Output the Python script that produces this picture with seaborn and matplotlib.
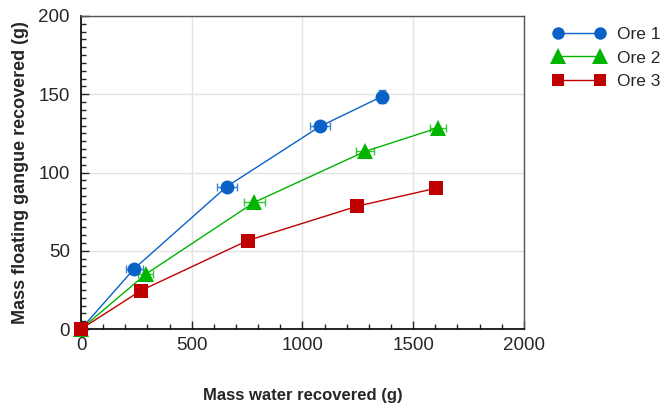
import seaborn as sns
import pandas as pd
import matplotlib.pyplot as plt
from matplotlib.ticker import MultipleLocator
from matplotlib.lines import Line2D

ores = ['Ore 1', 'Ore 2', 'Ore 3']
water_ore1 = [0, 240, 658, 1080, 1358]
gangue_ore1 = [0, 38.5, 91, 129.5, 148.5]
xerr_ore1 = [0, 38, 45, 45, 0]
yerr_ore1 = [0, 0, 0, 0, 4]
water_ore2 = [0, 292, 783, 1283, 1612]
gangue_ore2 = [0, 35, 81, 113.5, 128.5]
xerr_ore2 = [0, 35, 47, 40, 38]
water_ore3 = [0, 270, 752, 1248, 1604]
gangue_ore3 = [0, 24.5, 56.5, 78.5, 90]

colors = {'Ore 1': '#0A62C6', 'Ore 2': '#00B400', 'Ore 3': '#C00000'}
markers = {'Ore 1': 'o', 'Ore 2': '^', 'Ore 3': 's'}
msize = {'o': 10, '^': 12, 's': 10}

df = pd.DataFrame({
    'water': water_ore1 + water_ore2 + water_ore3,
    'gangue': gangue_ore1 + gangue_ore2 + gangue_ore3,
    'ore': ['Ore 1'] * 5 + ['Ore 2'] * 5 + ['Ore 3'] * 5,
})

sns.set_style('ticks')
plt.rcParams['font.family'] = ['Liberation Sans', 'DejaVu Sans']

fig = plt.figure(figsize=(6.64, 4.08), dpi=100)
ax = fig.add_axes([0.122, 0.1936, 0.667, 0.7672])

# error bars go under the markers
ax.errorbar(water_ore1, gangue_ore1, xerr=xerr_ore1, yerr=yerr_ore1, fmt='none',
            ecolor='#3C82D2', elinewidth=1, capsize=3, zorder=2, clip_on=False)
ax.errorbar(water_ore2, gangue_ore2, xerr=xerr_ore2, fmt='none',
            ecolor='#30C830', elinewidth=1, capsize=3, zorder=2, clip_on=False)

sns.lineplot(data=df, x='water', y='gangue', hue='ore', style='ore',
             palette=colors, markers=markers, dashes=False, markersize=10,
             markeredgewidth=0, linewidth=1, ax=ax, zorder=3, legend=False,
             clip_on=False)
for ln in ax.lines:
    m = ln.get_marker()
    if m in msize:
        ln.set_markersize(msize[m])

handles = [Line2D([], [], color=colors[o], marker=markers[o],
                  markersize=msize[markers[o]] - 1,
                  markeredgewidth=0, linewidth=1) for o in ores]
fig.legend(handles, ores, loc='upper left', bbox_to_anchor=(0.822, 0.952),
           frameon=False, fontsize=12.5, handlelength=3.0, handletextpad=0.7,
           labelspacing=0.5, borderaxespad=0, numpoints=2)

ax.set_xlim(0, 2000)
ax.set_ylim(0, 200)
ax.xaxis.set_major_locator(MultipleLocator(500))
ax.xaxis.set_minor_locator(MultipleLocator(100))
ax.yaxis.set_major_locator(MultipleLocator(50))
ax.yaxis.set_minor_locator(MultipleLocator(5))
ax.tick_params(which='both', direction='in', labelsize=13.5, width=1)
ax.tick_params(axis='y', which='major', pad=8)
ax.tick_params(axis='x', which='major', pad=6)
ax.tick_params(which='major', length=6)
ax.tick_params(which='minor', length=3.5)
ax.grid(True, which='major', color='#E3E3E3', linewidth=1)
ax.set_axisbelow(True)
for s in ['left', 'bottom']:
    ax.spines[s].set_linewidth(1.2)
    ax.spines[s].set_color('black')
for s in ['top', 'right']:
    ax.spines[s].set_linewidth(1)
    ax.spines[s].set_color('#555555')

ax.set_xlabel('Mass water recovered (g)', fontsize=12, fontweight='bold', labelpad=24)
ax.set_ylabel('Mass floating gangue recovered (g)', fontsize=13, fontweight='bold', labelpad=7)

plt.savefig('out.png', dpi=100)
